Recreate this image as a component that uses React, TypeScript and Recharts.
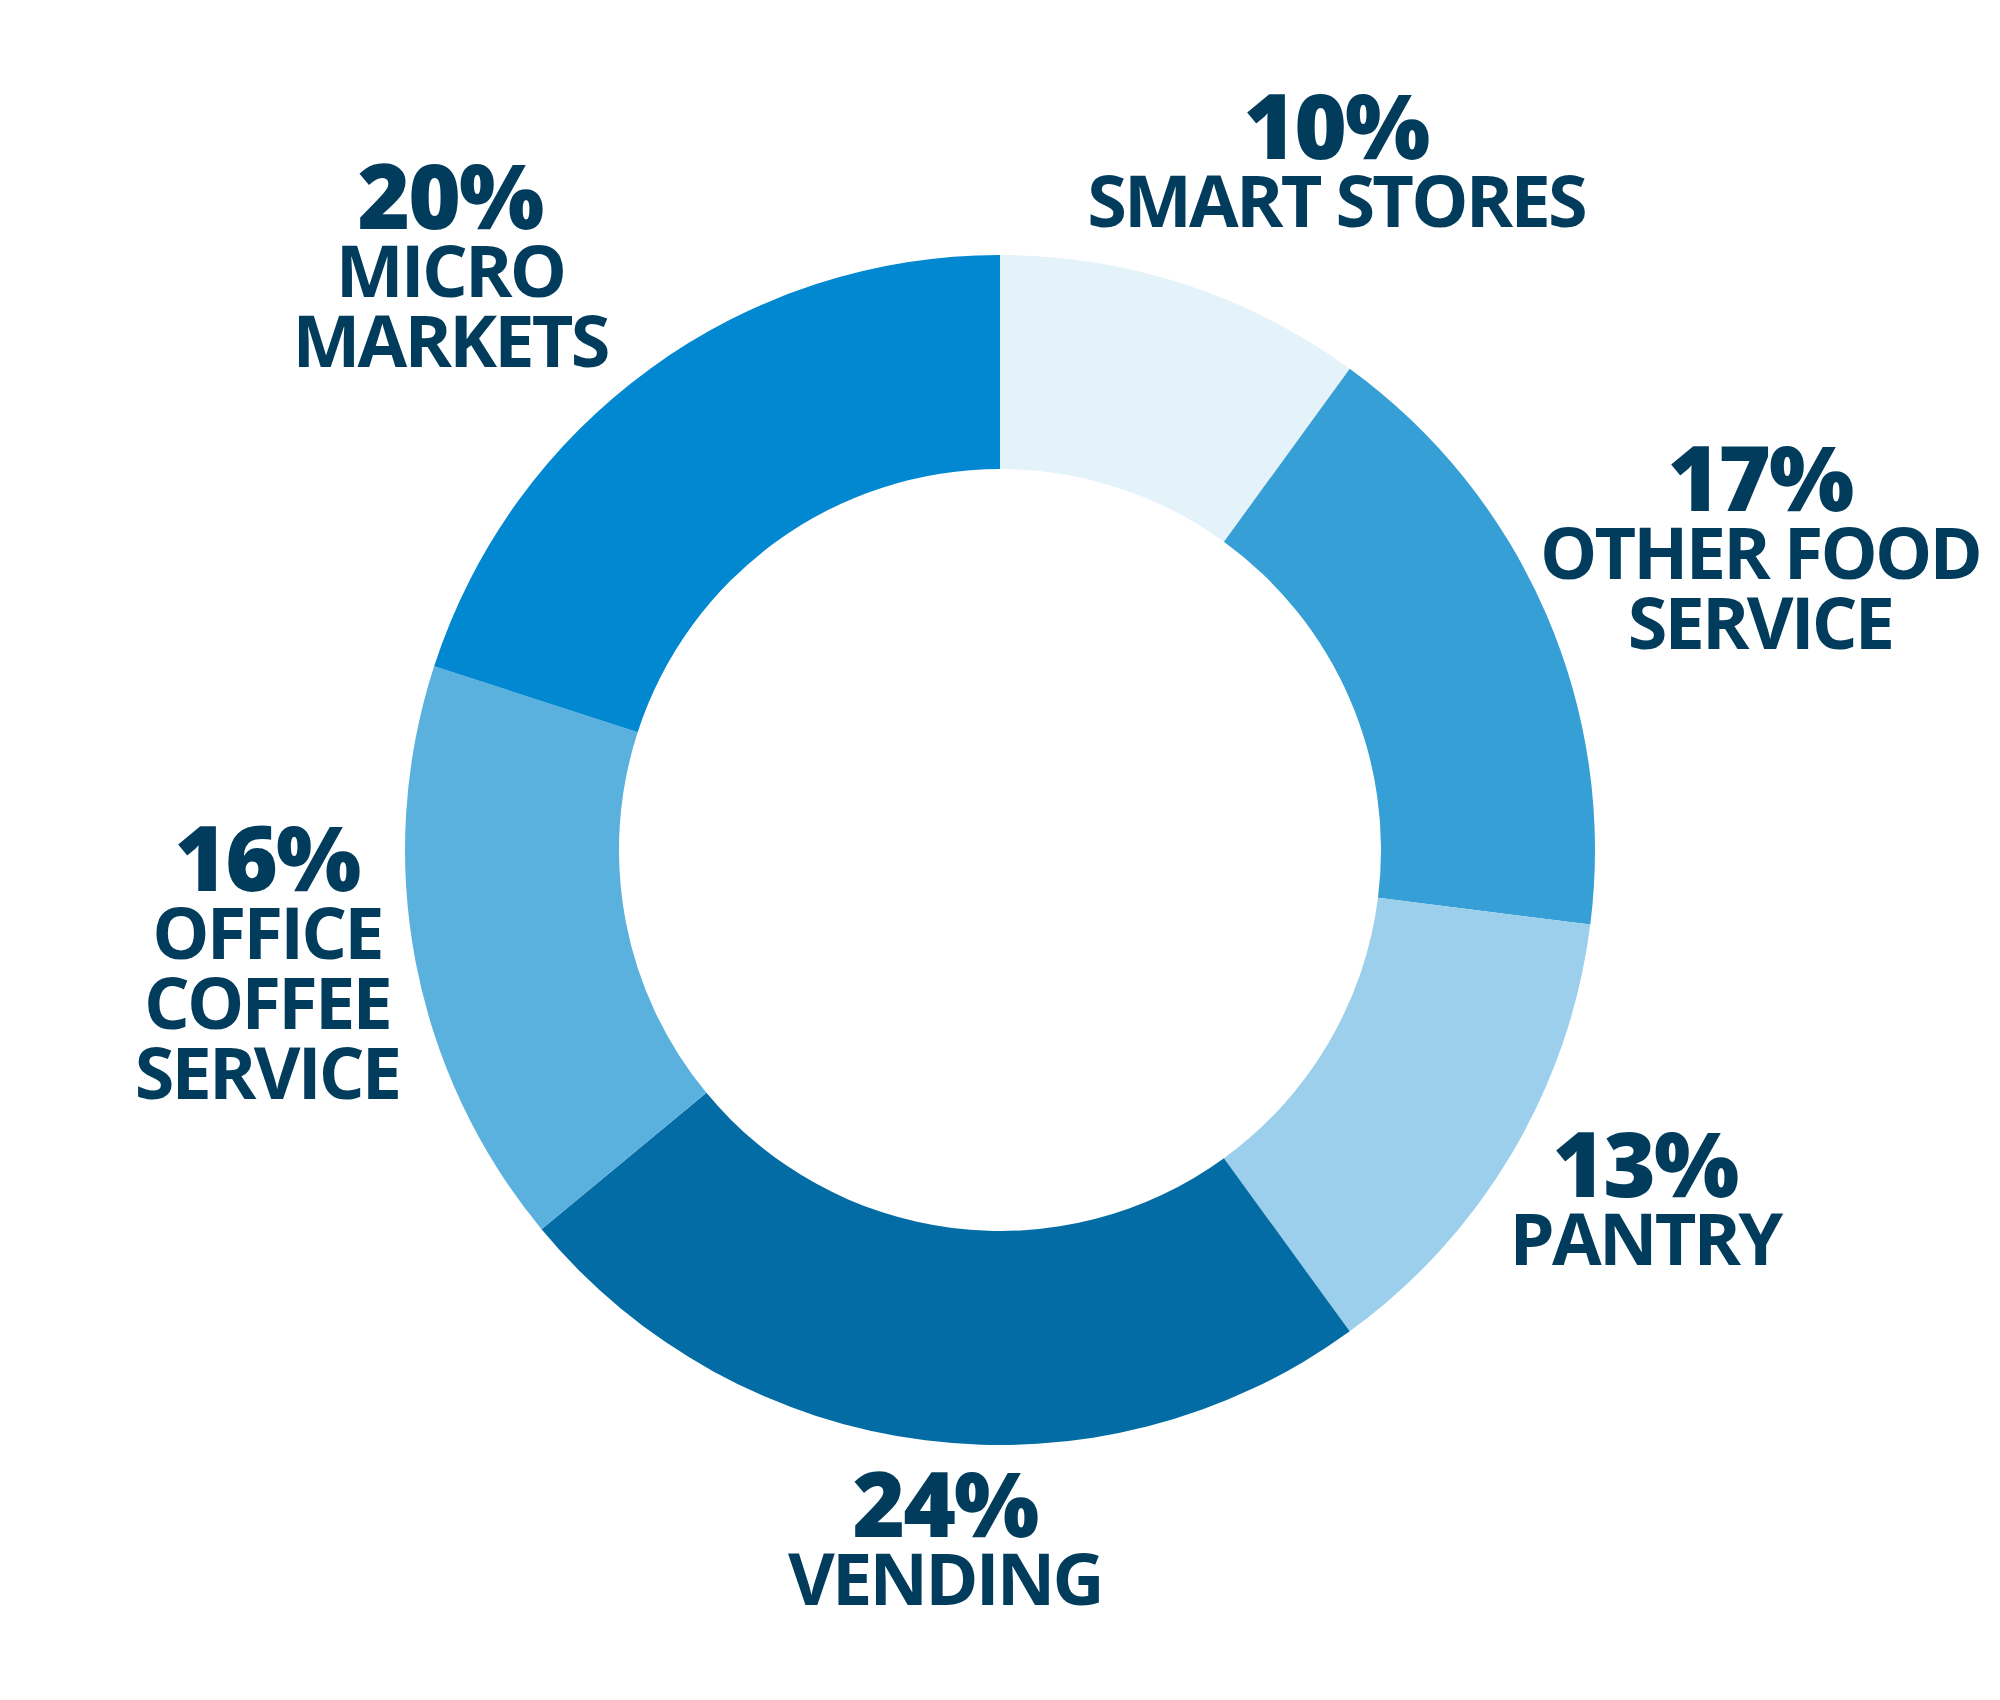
import { PieChart, Pie, Cell } from 'recharts';

// Segments clockwise from 12 o'clock
const categories = ['SMART STORES', 'OTHER FOOD SERVICE', 'PANTRY', 'VENDING', 'OFFICE COFFEE SERVICE', 'MICRO MARKETS'];
const shares = [10, 17, 13, 24, 16, 20];
const labelLines = [
  ['SMART STORES'],
  ['OTHER FOOD', 'SERVICE'],
  ['PANTRY'],
  ['VENDING'],
  ['OFFICE', 'COFFEE', 'SERVICE'],
  ['MICRO', 'MARKETS'],
];

const COLORS = ['#e4f2fa', '#359fd6', '#9bcfeb', '#036ca5', '#5bb1de', '#0288d1'];
const TEXT = '#023c5c';
const FONT = '"Open Sans", "Noto Sans", sans-serif';

// label block position (centre x, cap-top y) relative to the pie centre
const LABEL_LAYOUT = [
  { dx: 336, dy: -755 },
  { dx: 760, dy: -403 },
  { dx: 645, dy: 283 },
  { dx: -55, dy: 623 },
  { dx: -733, dy: -23 },
  { dx: -550, dy: -685 },
];

const data = categories.map((name, i) => ({ name, value: shares[i] }));

const renderLabel = (props: any) => {
  const { cx, cy, index, value } = props;
  const pos = LABEL_LAYOUT[index];
  const x = cx + pos.dx;
  const top = cy + pos.dy;
  return (
    <g key={`lbl-${index}`}>
      <text x={x} y={top + 64} textAnchor="middle" fill={TEXT} fontFamily={FONT} fontWeight={800} fontSize={90} letterSpacing={-2}>
        {`${value}%`}
      </text>
      {labelLines[index].map((line, j) => (
        <text
          key={j}
          x={x}
          y={top + 80 + 52 + 70 * j}
          textAnchor="middle"
          fill={TEXT}
          fontFamily={FONT}
          fontWeight={700}
          fontSize={72}
          letterSpacing={-2.8}
        >
          {line}
        </text>
      ))}
    </g>
  );
};

export default function App() {
  return (
    <div style={{ position: 'absolute', left: 0, top: 0, width: 2000, height: 1700, background: '#fff' }}>
      <PieChart width={2000} height={1700} margin={{ top: 0, right: 0, bottom: 0, left: 0 }}>
        <Pie
          data={data}
          dataKey="value"
          nameKey="name"
          cx={1000}
          cy={850}
          innerRadius={381}
          outerRadius={595}
          startAngle={90}
          endAngle={-270}
          stroke="none"
          label={renderLabel}
          labelLine={false}
          isAnimationActive={false}
        >
          {data.map((_, i) => (
            <Cell key={i} fill={COLORS[i]} />
          ))}
        </Pie>
      </PieChart>
    </div>
  );
}
